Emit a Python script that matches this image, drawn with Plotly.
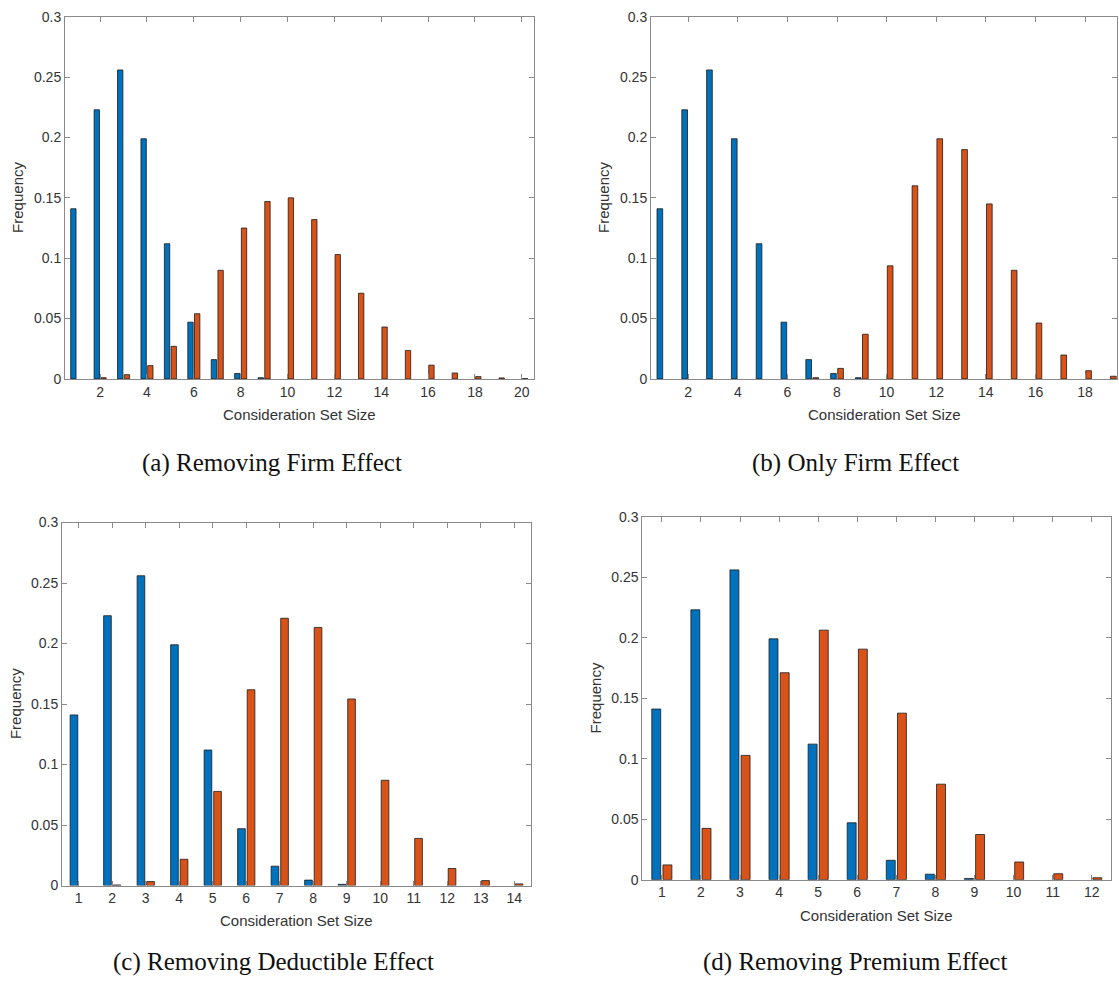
import plotly.graph_objects as go

# Consideration-set-size distributions: observed (blue) vs counterfactual (orange)
observed = [0.141, 0.223, 0.256, 0.199, 0.112, 0.047, 0.016, 0.0045, 0.001]

sizes_a = list(range(1, 21))
blue_a = observed + [0.0] * 11
orange_a = [0.0, 0.001, 0.0035, 0.011, 0.027, 0.054, 0.090, 0.125, 0.147, 0.150,
            0.132, 0.103, 0.071, 0.043, 0.0236, 0.0114, 0.0049, 0.0019, 0.0008, 0.0002]

sizes_b = list(range(1, 20))
blue_b = observed + [0.0] * 10
orange_b = [0.0, 0.0, 0.0, 0.0, 0.0, 0.0, 0.001, 0.0087, 0.037, 0.0937,
            0.160, 0.199, 0.190, 0.145, 0.090, 0.0463, 0.0198, 0.0068, 0.0022]

sizes_c = list(range(1, 15))
blue_c = observed + [0.0] * 5
orange_c = [0.0, 0.0005, 0.0033, 0.0217, 0.0778, 0.1618, 0.2209, 0.2133, 0.1542,
            0.087, 0.039, 0.0141, 0.0041, 0.0014]

sizes_d = list(range(1, 13))
blue_d = observed + [0.0] * 3
orange_d = [0.0122, 0.0424, 0.1027, 0.171, 0.2062, 0.1905, 0.1376, 0.0789,
            0.0373, 0.0146, 0.0049, 0.0016]

captions = ["(a) Removing Firm Effect", "(b) Only Firm Effect",
            "(c) Removing Deductible Effect", "(d) Removing Premium Effect"]
y_ticks = [0, 0.05, 0.1, 0.15, 0.2, 0.25, 0.3]
y_tick_text = ["0", "0.05", "0.1", "0.15", "0.2", "0.25", "0.3"]

W, H = 1119, 989
BLUE = "#0072BD"
ORANGE = "#D95319"
AXIS_GRAY = "#8a8a8a"
TEXT = "#333333"

# pixel boxes (left, right, top, bottom) for each panel
boxes = [(65, 533.5, 9, 377), (651, 1117, 9, 377),
         (62, 531, 523, 892), (642.3, 1111.3, 517, 886)]
x_ranges = [[0.5, 20.5], [0.5, 19.29], [0.5, 14.5], [0.5, 12.5]]
x_tickvals = [list(range(2, 21, 2)), list(range(2, 19, 2)),
              list(range(1, 15)), list(range(1, 13))]
panels = [(sizes_a, blue_a, orange_a), (sizes_b, blue_b, orange_b),
          (sizes_c, blue_c, orange_c), (sizes_d, blue_d, orange_d)]

fig = go.Figure()
layout = {}
annotations = []
for i, ((x, b, o), (l, r, t, btm)) in enumerate(zip(panels, boxes)):
    n = "" if i == 0 else str(i + 1)
    xa, ya = "x" + n, "y" + n
    for vals, col in ((b, BLUE), (o, ORANGE)):
        # no outline on empty bins so they leave no stub on the baseline
        edge_w = [0.8 if v > 0 else 0 for v in vals]
        fig.add_trace(go.Bar(
            x=x, y=vals, xaxis=xa, yaxis=ya, showlegend=False,
            marker=dict(color=col, line=dict(color="#1a1a1a", width=edge_w)),
        ))
    common = dict(showline=True, linecolor=AXIS_GRAY, linewidth=1, mirror="ticks",
                  ticks="inside", ticklen=5, tickwidth=1, tickcolor=AXIS_GRAY,
                  showgrid=False, zeroline=False,
                  tickfont=dict(family="Liberation Sans", size=14, color=TEXT))
    layout["xaxis" + n] = dict(common, domain=[l / W, r / W], range=x_ranges[i],
                               tickvals=x_tickvals[i], anchor=ya)
    layout["yaxis" + n] = dict(common, domain=[1 - btm / H, 1 - t / H], range=[0, 0.3],
                               tickvals=y_ticks, ticktext=y_tick_text, anchor=xa)

    cx = (l + r) / 2
    cy = (t + btm) / 2
    # axis titles
    annotations.append(dict(text="Consideration Set Size", x=cx / W, y=1 - (btm + 36) / H,
                            xref="paper", yref="paper", showarrow=False,
                            xanchor="center", yanchor="middle",
                            font=dict(family="Liberation Sans", size=15, color=TEXT)))
    annotations.append(dict(text="Frequency", x=(l - 47) / W, y=1 - cy / H,
                            xref="paper", yref="paper", showarrow=False, textangle=-90,
                            xanchor="center", yanchor="middle",
                            font=dict(family="Liberation Sans", size=15, color=TEXT)))

caption_pos = [(272, 462), (855, 462), (273, 970), (855, 970)]
for text, (px, py) in zip(captions, caption_pos):
    annotations.append(dict(text=text, x=px / W, y=1 - py / H, xref="paper", yref="paper",
                            showarrow=False, xanchor="center", yanchor="middle",
                            font=dict(family="Liberation Serif", size=25, color="#111111")))

fig.update_layout(
    width=W, height=H, margin=dict(l=0, r=0, t=0, b=0),
    paper_bgcolor="white", plot_bgcolor="white",
    barmode="group", bargap=0.4286, bargroupgap=0.2,
    annotations=annotations, **layout,
)

fig.write_html("out.html")
